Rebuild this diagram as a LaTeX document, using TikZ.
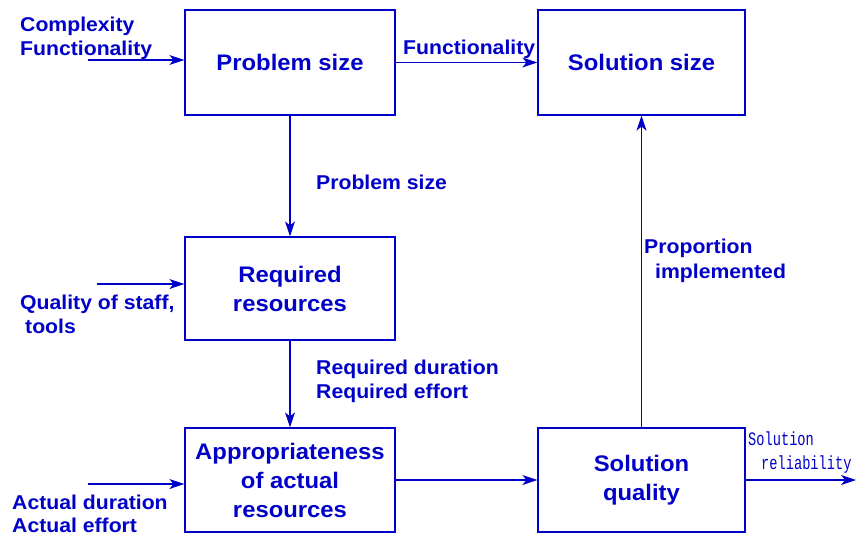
\documentclass[tikz,border=0pt]{standalone}
\usepackage{fontspec}
\setmainfont{Liberation Sans}[FakeStretch=1.06]
\newfontfamily\monofnt{Liberation Mono}
\usetikzlibrary{arrows.meta}
\definecolor{dblue}{RGB}{0,0,200}
\tikzset{
  box/.style={draw=dblue, line width=1.2pt, text=dblue, align=center,
    font=\fontsize{22.5}{29}\selectfont\bfseries, inner sep=0pt},
  lbl/.style={text=dblue, anchor=base west, inner sep=0pt,
    font=\fontsize{20}{24}\selectfont\bfseries},
  olbl/.style={text=dblue, anchor=base west, inner sep=0pt,
    font=\fontsize{19}{22}\selectfont\monofnt},
  flow/.style={draw=dblue, line width=1.2pt, -{Stealth[length=15pt,width=10pt,inset=4pt]}}
}
\begin{document}
\begin{tikzpicture}[x=1pt,y=-1pt]
\useasboundingbox (0,0) rectangle (858,536);
% boxes
\node[box, minimum width=210pt, minimum height=105pt] (ps) at (290,62.5) {Problem size};
\node[box, minimum width=207pt, minimum height=105pt] (ss) at (641.5,62.5) {Solution size};
\node[box, minimum width=210pt, minimum height=103pt] (rr) at (290,288.5) {Required\\resources};
\node[box, minimum width=210pt, minimum height=104pt] (ap) at (290,480) {Appropriateness\\of actual\\resources};
\node[box, minimum width=207pt, minimum height=104pt] (sq) at (641.5,480) {Solution\\quality};
% free ends
\coordinate (in1) at (88,60);
\coordinate (in2) at (97,284);
\coordinate (in3) at (88,484);
\coordinate (out) at (856,480);
% connectors
\draw[flow] (in1) -- (ps.west |- in1);
\draw[flow] (ps.east) -- (ss.west);
\draw[flow] (ps.south) -- (rr.north);
\draw[flow] (in2) -- (rr.west |- in2);
\draw[flow] (rr.south) -- (ap.north);
\draw[flow] (in3) -- (ap.west |- in3);
\draw[flow] (ap.east) -- (sq.west);
\draw[flow] (sq.north) -- (ss.south);
\draw[flow] (sq.east) -- (out);
% labels
\node[lbl] (l1a) at (20,31) {Complexity};
\node[lbl] (l1b) at (20,55) {Functionality};
\node[lbl] (l2) at (403,54) {Functionality};
\node[lbl] (l3) at (316,189) {Problem size};
\node[lbl] (l4a) at (644,253) {Proportion};
\node[lbl] (l4b) at (655,278) {implemented};
\node[lbl] (l5a) at (20,309) {Quality of staff,};
\node[lbl] (l5b) at (25,333) {tools};
\node[lbl] (l6a) at (316,374) {Required duration};
\node[lbl] (l6b) at (316,398) {Required effort};
\node[lbl] (l7a) at (12,509) {Actual duration};
\node[lbl] (l7b) at (12,532) {Actual effort};
\node[olbl] (o1) at (748,445) {\scalebox{0.72}[1]{Solution}};
\node[olbl] (o2) at (761,469) {\scalebox{0.72}[1]{reliability}};
\end{tikzpicture}
\end{document}
